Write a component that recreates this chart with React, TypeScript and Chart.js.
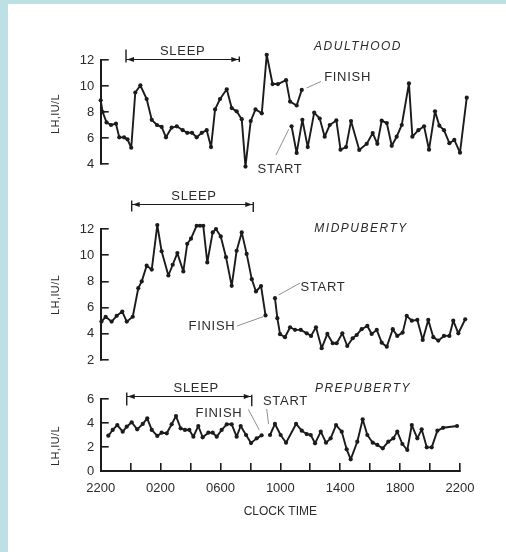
import React, { useEffect, useRef } from 'react';
import { Chart, registerables } from 'chart.js';

Chart.register(...registerables);

// ---------------- data (hours after 22:00, LH in IU/L) ----------------
const adultTimeA = [0.0, 0.13, 0.39, 0.69, 1.02, 1.24, 1.56, 1.79, 2.04, 2.31, 2.65, 3.07, 3.41, 3.76, 4.07, 4.36, 4.74, 5.08, 5.48, 5.78, 6.1, 6.41, 6.75, 7.08, 7.37, 7.64, 7.97, 8.42, 8.75, 9.08, 9.42, 9.67, 10.02, 10.34, 10.76, 11.09, 11.48, 11.84, 12.38, 12.65, 13.09, 13.43];
const adultLHA = [8.9, 8.0, 7.2, 7.0, 7.1, 6.05, 6.05, 5.9, 5.25, 9.5, 10.05, 9.0, 7.4, 7.0, 6.85, 6.05, 6.8, 6.9, 6.6, 6.4, 6.4, 6.05, 6.4, 6.6, 5.3, 8.2, 9.0, 9.75, 8.3, 8.05, 7.45, 3.8, 7.3, 8.2, 7.9, 12.4, 10.15, 10.15, 10.45, 8.8, 8.5, 9.7];
const adultTimeB = [12.75, 13.09, 13.47, 13.83, 14.26, 14.63, 14.96, 15.3, 15.74, 16.02, 16.39, 16.72, 17.27, 17.77, 18.17, 18.48, 18.77, 19.11, 19.44, 19.77, 20.11, 20.59, 20.82, 21.22, 21.6, 21.93, 22.33, 22.62, 22.93, 23.29, 23.62, 24.0, 24.45];
const adultLHB = [6.9, 4.85, 7.4, 5.3, 7.95, 7.5, 6.1, 7.0, 7.35, 5.1, 5.3, 7.3, 5.08, 5.55, 6.38, 5.55, 7.33, 7.15, 5.4, 6.1, 7.0, 10.2, 6.1, 6.6, 6.9, 5.1, 8.05, 6.95, 6.6, 5.6, 5.85, 4.87, 9.1];

const midTimeA = [0.05, 0.33, 0.73, 1.07, 1.44, 1.74, 2.14, 2.51, 2.74, 3.07, 3.41, 3.78, 4.07, 4.52, 4.81, 5.12, 5.52, 5.78, 6.03, 6.41, 6.63, 6.85, 7.12, 7.48, 7.7, 8.02, 8.37, 8.75, 9.08, 9.42, 9.75, 10.09, 10.37, 10.71, 11.01];
const midLHA = [4.93, 5.3, 4.93, 5.37, 5.7, 4.93, 5.3, 7.48, 8.0, 9.2, 8.9, 12.3, 10.3, 8.45, 9.27, 10.16, 8.76, 10.87, 11.26, 12.25, 12.25, 12.25, 9.45, 11.74, 12.0, 11.43, 9.85, 7.66, 10.34, 11.74, 10.1, 8.17, 7.23, 7.65, 5.4];
const midTimeB = [11.64, 11.8, 11.98, 12.31, 12.65, 12.98, 13.36, 13.76, 14.05, 14.38, 14.76, 15.14, 15.5, 15.76, 16.14, 16.47, 16.83, 17.1, 17.43, 17.81, 18.1, 18.44, 18.77, 19.11, 19.51, 19.81, 20.17, 20.44, 20.78, 21.15, 21.51, 21.88, 22.22, 22.55, 22.93, 23.29, 23.55, 23.89, 24.35];
const midLHB = [6.72, 5.19, 3.97, 3.74, 4.5, 4.3, 4.3, 4.04, 3.84, 4.5, 2.9, 3.99, 3.28, 3.28, 4.04, 3.07, 3.66, 3.91, 4.35, 4.6, 3.99, 4.3, 3.32, 3.02, 4.35, 3.84, 4.09, 5.37, 5.0, 5.06, 3.53, 5.06, 3.74, 3.48, 3.84, 3.84, 5.0, 4.04, 5.11];

const preTimeA = [0.51, 0.8, 1.11, 1.47, 1.74, 2.07, 2.44, 2.81, 3.11, 3.41, 3.78, 4.07, 4.41, 4.74, 5.03, 5.34, 5.63, 5.92, 6.19, 6.52, 6.81, 7.19, 7.48, 7.75, 8.08, 8.42, 8.75, 9.08, 9.35, 9.71, 10.04, 10.42, 10.75];
const preLHA = [2.94, 3.42, 3.83, 3.28, 3.69, 4.06, 3.47, 3.92, 4.39, 3.42, 2.92, 3.19, 3.14, 3.89, 4.58, 3.56, 3.42, 3.42, 2.86, 3.75, 2.81, 3.19, 3.19, 2.86, 3.42, 3.89, 3.89, 2.86, 3.75, 3.0, 2.33, 2.72, 2.97];
const preTimeB = [11.31, 11.64, 12.02, 12.38, 13.05, 13.43, 13.76, 14.03, 14.32, 14.7, 15.05, 15.36, 15.72, 16.1, 16.43, 16.7, 17.14, 17.5, 17.81, 18.17, 18.48, 18.84, 19.21, 19.55, 19.81, 20.15, 20.48, 20.78, 21.15, 21.44, 21.78, 22.11, 22.49, 22.87, 23.8];
const preLHB = [3.0, 3.92, 3.0, 2.36, 3.92, 3.36, 3.08, 3.0, 2.31, 3.28, 2.36, 2.72, 3.83, 3.28, 1.81, 0.97, 2.44, 4.31, 3.0, 2.36, 2.17, 1.89, 2.44, 2.72, 3.28, 2.25, 1.75, 3.83, 2.72, 3.47, 1.97, 1.97, 3.36, 3.6, 3.75];

// axis ticks / labels
const clockTickHours = [0, 4, 8, 12, 16, 20, 24];
const clockTickLabels = ['2200', '0200', '0600', '1000', '1400', '1800', '2200'];
const minorTickHours = [0, 2, 4, 6, 8, 10, 12, 14, 16, 18, 20, 22, 24];
const panelTitles = ['ADULTHOOD', 'MIDPUBERTY', 'PREPUBERTY'];
const yAxisLabel = 'LH,IU/L';
const xAxisLabel = 'CLOCK TIME';
const sleepLabel = 'SLEEP';
const startLabel = 'START';
const finishLabel = 'FINISH';

// ---------------- styling / layout ----------------
const W = 506;
const H = 552;
const PLOT_LEFT = 100.7;
const PLOT_RIGHT = 460;
const X_AXIS_H = 60;
const FONT = '"Liberation Sans", Arial, Helvetica, sans-serif';
const INK = '#1b1b1b';
const TEXT = '#2b2b2b';
const LEADER = '#8f8f8f';

type Callout = { text: string; at: [number, number]; from: [number, number]; to: [number, number] };
type Panel = {
  key: string;
  title: string;
  titleAt: [number, number];
  plotTop: number;
  plotBottom: number;
  yMin: number;
  yMax: number;
  showX: boolean;
  segA: { x: number; y: number }[];
  segB: { x: number; y: number }[];
  sleep: { from: number; to: number; at: number; textShift: number; bars: [number, number, number, number] };
  callouts: Callout[];
  yLabelAt: number;
};

const pts = (t: number[], v: number[]) => t.map((h, i) => ({ x: h, y: v[i] }));

const panels: Panel[] = [
  {
    key: 'adult',
    title: panelTitles[0],
    titleAt: [17.19, 13.0],
    plotTop: 60,
    plotBottom: 164,
    yMin: 4,
    yMax: 12,
    showX: false,
    segA: pts(adultTimeA, adultLHA),
    segB: pts(adultTimeB, adultLHB),
    sleep: { from: 1.69, to: 9.26, at: 12.05, textShift: 0, bars: [10, 3, 3, 2.5] },
    callouts: [
      { text: finishLabel, at: [16.49, 10.69], from: [13.75, 9.85], to: [14.72, 10.35] },
      { text: startLabel, at: [11.98, 3.62], from: [11.71, 4.69], to: [12.56, 6.67] },
    ],
    yLabelAt: 7.85,
  },
  {
    key: 'mid',
    title: panelTitles[1],
    titleAt: [17.39, 12.02],
    plotTop: 229,
    plotBottom: 360,
    yMin: 2,
    yMax: 12,
    showX: false,
    segA: pts(midTimeA, midLHA),
    segB: pts(midTimeB, midLHB),
    sleep: { from: 2.07, to: 10.19, at: 13.91, textShift: 1.5, bars: [4, 7, 2.6, 7.4] },
    callouts: [
      { text: startLabel, at: [14.85, 7.56], from: [11.89, 6.97], to: [13.31, 7.87] },
      { text: finishLabel, at: [7.43, 4.55], from: [9.12, 4.6], to: [10.86, 5.31] },
    ],
    yLabelAt: 6.97,
  },
  {
    key: 'pre',
    title: panelTitles[2],
    titleAt: [17.52, 6.89],
    plotTop: 399,
    plotBottom: 471,
    yMin: 0,
    yMax: 6,
    showX: true,
    segA: pts(preTimeA, preLHA),
    segB: pts(preTimeB, preLHB),
    sleep: { from: 1.74, to: 10.09, at: 6.25, textShift: 7, bars: [4, 9, 1.7, 9.7] },
    callouts: [
      { text: startLabel, at: [12.34, 5.78], from: [11.09, 5.17], to: [11.21, 3.92] },
      { text: finishLabel, at: [7.9, 4.81], from: [9.86, 5.14], to: [10.59, 3.42] },
    ],
    yLabelAt: 2.08,
  },
];

// lets the library draw the markers that sit just outside the axis box (peaks above the top tick, late samples)
const overshootPlugin = {
  id: 'overshoot',
  beforeDatasetsDraw(chart: any) {
    chart.$savedArea = chart.chartArea;
    chart.chartArea = { left: 0, top: 0, right: W, bottom: H, width: W, height: H };
  },
  afterDatasetsDraw(chart: any) {
    if (chart.$savedArea) chart.chartArea = chart.$savedArea;
  },
};

function makeNotes(p: Panel) {
  return {
    id: 'notes_' + p.key,
    afterDatasetsDraw(chart: any) {
      const { ctx } = chart;
      const xs = chart.scales.x;
      const ys = chart.scales.y;
      const X = (h: number) => xs.getPixelForValue(h);
      const Y = (v: number) => ys.getPixelForValue(v);
      ctx.save();
      ctx.fillStyle = TEXT;
      ctx.textAlign = 'center';
      ctx.textBaseline = 'middle';

      // panel title
      ctx.font = `italic 12px ${FONT}`;
      ctx.letterSpacing = '1.5px';
      ctx.fillText(p.title, X(p.titleAt[0]), Y(p.titleAt[1]));

      // sleep bracket
      const s = p.sleep;
      const xa = X(s.from);
      const xb = X(s.to);
      const ya = Math.round(Y(s.at)) + 0.5;
      ctx.strokeStyle = INK;
      ctx.lineWidth = 1;
      ctx.beginPath();
      ctx.moveTo(xa, ya);
      ctx.lineTo(xb, ya);
      ctx.stroke();
      ctx.lineWidth = 1.4;
      ctx.beginPath();
      ctx.moveTo(xa, ya - s.bars[0]);
      ctx.lineTo(xa, ya + s.bars[1]);
      ctx.moveTo(xb, ya - s.bars[2]);
      ctx.lineTo(xb, ya + s.bars[3]);
      ctx.stroke();
      ctx.fillStyle = INK;
      ctx.beginPath();
      ctx.moveTo(xa + 1, ya);
      ctx.lineTo(xa + 8, ya - 2.6);
      ctx.lineTo(xa + 8, ya + 2.6);
      ctx.closePath();
      ctx.moveTo(xb - 1, ya);
      ctx.lineTo(xb - 8, ya - 2.6);
      ctx.lineTo(xb - 8, ya + 2.6);
      ctx.closePath();
      ctx.fill();
      ctx.fillStyle = TEXT;
      ctx.font = `13px ${FONT}`;
      ctx.letterSpacing = '0.7px';
      ctx.fillText(sleepLabel, (xa + xb) / 2 + s.textShift, ya - 8.5);

      // callouts with leader lines
      ctx.strokeStyle = LEADER;
      ctx.lineWidth = 1;
      for (const c of p.callouts) {
        ctx.fillText(c.text, X(c.at[0]), Y(c.at[1]));
        ctx.beginPath();
        ctx.moveTo(X(c.from[0]), Y(c.from[1]));
        ctx.lineTo(X(c.to[0]), Y(c.to[1]));
        ctx.stroke();
      }

      // y axis label
      ctx.font = `11px ${FONT}`;
      ctx.letterSpacing = '0.4px';
      ctx.translate(chart.chartArea.left - 44.7, Y(p.yLabelAt));
      ctx.rotate(-Math.PI / 2);
      ctx.fillText(yAxisLabel, 0, 0);
      ctx.restore();
    },
  };
}

function buildConfig(p: Panel): any {
  const lineStyle = {
    borderColor: INK,
    borderWidth: 1.9,
    borderJoinStyle: 'round',
    borderCapStyle: 'round',
    pointRadius: 2.1,
    pointBackgroundColor: INK,
    pointBorderWidth: 0,
    tension: 0,
    clip: false,
    fill: false,
  };
  return {
    type: 'line',
    data: {
      datasets: [
        { ...lineStyle, label: p.title + ' night', data: p.segA },
        { ...lineStyle, label: p.title + ' day', data: p.segB },
      ],
    },
    options: {
      responsive: false,
      animation: false,
      events: [],
      layout: {
        padding: {
          top: p.plotTop,
          bottom: H - p.plotBottom - (p.showX ? X_AXIS_H : 0),
          left: 0,
          right: W - PLOT_RIGHT,
        },
      },
      plugins: {
        legend: { display: false },
        tooltip: { enabled: false },
      },
      scales: {
        x: {
          type: 'linear',
          display: p.showX,
          bounds: 'data',
          // range fixed to the 24-hour clock; set here so that late samples are not culled
          afterDataLimits(scale: any) {
            scale.min = clockTickHours[0];
            scale.max = clockTickHours[clockTickHours.length - 1];
          },
          afterFit(scale: any) {
            if (p.showX) scale.height = X_AXIS_H;
          },
          afterBuildTicks(scale: any) {
            scale.ticks = minorTickHours.map((v) => ({ value: v }));
          },
          ticks: {
            autoSkip: false,
            maxRotation: 0,
            padding: 17.5,
            color: TEXT,
            font: { family: FONT, size: 13 },
            callback(v: number) {
              const i = clockTickHours.indexOf(v);
              return i >= 0 ? clockTickLabels[i] : '';
            },
          },
          grid: {
            drawOnChartArea: false,
            drawTicks: true,
            tickLength: -8,
            color: INK,
            lineWidth: 1.6,
          },
          border: { display: true, color: INK, width: 2 },
          title: {
            display: true,
            text: xAxisLabel,
            color: TEXT,
            font: { family: FONT, size: 12 },
            padding: { top: 0, bottom: 11.8 },
          },
        },
        y: {
          type: 'linear',
          min: p.yMin,
          max: p.yMax,
          afterFit(scale: any) {
            scale.width = PLOT_LEFT;
          },
          ticks: {
            autoSkip: false,
            stepSize: 2,
            padding: 14.5,
            color: TEXT,
            font: { family: FONT, size: 13 },
          },
          grid: {
            drawOnChartArea: false,
            drawTicks: true,
            tickLength: -8,
            color: INK,
            lineWidth: 1.6,
          },
          border: { display: true, color: INK, width: 2 },
        },
      },
    },
    plugins: [overshootPlugin, makeNotes(p)],
  };
}

export default function App() {
  const refA = useRef<HTMLCanvasElement>(null);
  const refB = useRef<HTMLCanvasElement>(null);
  const refC = useRef<HTMLCanvasElement>(null);

  useEffect(() => {
    const refs = [refA, refB, refC];
    const charts = panels.map((p, i) => new Chart(refs[i].current as HTMLCanvasElement, buildConfig(p)));
    return () => charts.forEach((c) => c.destroy());
  }, []);

  const canvasStyle: React.CSSProperties = { position: 'absolute', left: 0, top: 0, width: W, height: H };
  return (
    <div style={{ position: 'fixed', left: 0, top: 0, width: W, height: H, background: '#bde0e4', overflow: 'hidden' }}>
      <div style={{ position: 'absolute', left: 8, top: 4, right: 0, bottom: 0, background: '#ffffff' }} />
      <canvas ref={refA} width={W} height={H} style={canvasStyle} />
      <canvas ref={refB} width={W} height={H} style={canvasStyle} />
      <canvas ref={refC} width={W} height={H} style={canvasStyle} />
    </div>
  );
}
